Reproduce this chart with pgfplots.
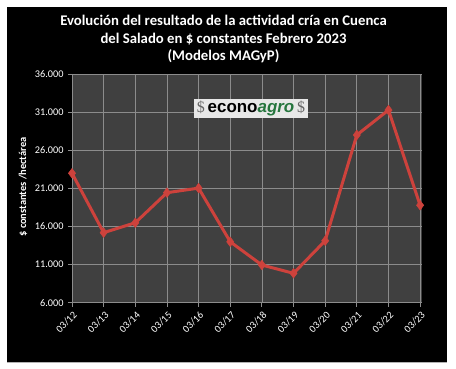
\documentclass[border=0pt]{standalone}
\usepackage{pgfplots}
\pgfplotsset{compat=1.18}
\usepackage{fontspec}
\setmainfont{Carlito}
\newfontfamily\logosans{Liberation Sans}
\newfontfamily\logoserif{Liberation Serif}
\definecolor{plotbg}{RGB}{64,64,64}
\definecolor{gridc}{RGB}{140,140,140}
\definecolor{linec}{RGB}{205,66,60}
\definecolor{agrog}{RGB}{38,118,62}
\definecolor{logobg}{RGB}{232,232,232}
\begin{document}
\begin{tikzpicture}[x=1bp,y=1bp]
\useasboundingbox (0,0) rectangle (456,368);
\fill[white] (0,0) rectangle (456,368);
\fill[black] (7,6) rectangle (447,361);
\draw[gray!60, line width=0.8bp] (7,6) -- (447,6);
\begin{axis}[
  at={(72bp,65.3bp)}, anchor=south west,
  scale only axis, width=350bp, height=228.4bp,
  xmin=0, xmax=11.06, ymin=6000, ymax=36000,
  axis background/.style={fill=plotbg},
  axis x line*=bottom, axis y line*=left,
  axis line style={gridc, line width=0.8bp},
  xtick={0,...,11},
  xticklabels={03/12,03/13,03/14,03/15,03/16,03/17,03/18,03/19,03/20,03/21,03/22,03/23},
  ytick={6000,11000,16000,21000,26000,31000,36000},
  scaled y ticks=false,
  yticklabel style={/pgf/number format/fixed, /pgf/number format/precision=0, /pgf/number format/1000 sep={.}, /pgf/number format/assume math mode=true, xshift=-1bp},
  grid=major, major grid style={gridc, line width=0.7bp},
  tick style={gridc, line width=0.8bp}, tick align=outside, major tick length=4bp,
  tick label style={white, font=\fontsize{10.3}{12}\selectfont},
  xticklabel style={rotate=45, anchor=east, yshift=-7bp, xshift=1bp},
  clip=false,
]
\addplot[color=linec, line width=3bp, mark=diamond*, mark size=4.8bp,
  mark options={fill=linec, draw=linec, line width=0.5bp}]
  coordinates {
  (0,23000) (1,15200) (2,16500) (3,20450) (4,21050) (5,14000)
  (6,10950) (7,9860) (8,14140) (9,28030) (10,31300) (11,18800)
  };
\end{axis}
\node[white, rotate=90, font=\bfseries\fontsize{10.5}{12}\selectfont] at (23,181) {\$ constantes /hectárea};
\node[white, anchor=base, font=\bfseries\fontsize{14.8}{17}\selectfont] at (223.5,342.3) {Evolución del resultado de la actividad cría en Cuenca};
\node[white, anchor=base, font=\bfseries\fontsize{14.8}{17}\selectfont] at (223.5,325) {del Salado en \$ constantes Febrero 2023};
\node[white, anchor=base, font=\bfseries\fontsize{14.8}{17}\selectfont] at (223.5,308) {(Modelos MAGyP)};
\fill[logobg] (194,250) rectangle (307.7,269);
\node[anchor=center, inner sep=0pt] at (251,259.5) {{\logoserif\fontsize{16}{16}\selectfont\color{gray!80!black}\$}{\logosans\bfseries\fontsize{17}{17}\selectfont\,econo{\color{agrog}\itshape agro}\,}{\logoserif\fontsize{16}{16}\selectfont\color{gray!80!black}\$}};
\end{tikzpicture}
\end{document}
